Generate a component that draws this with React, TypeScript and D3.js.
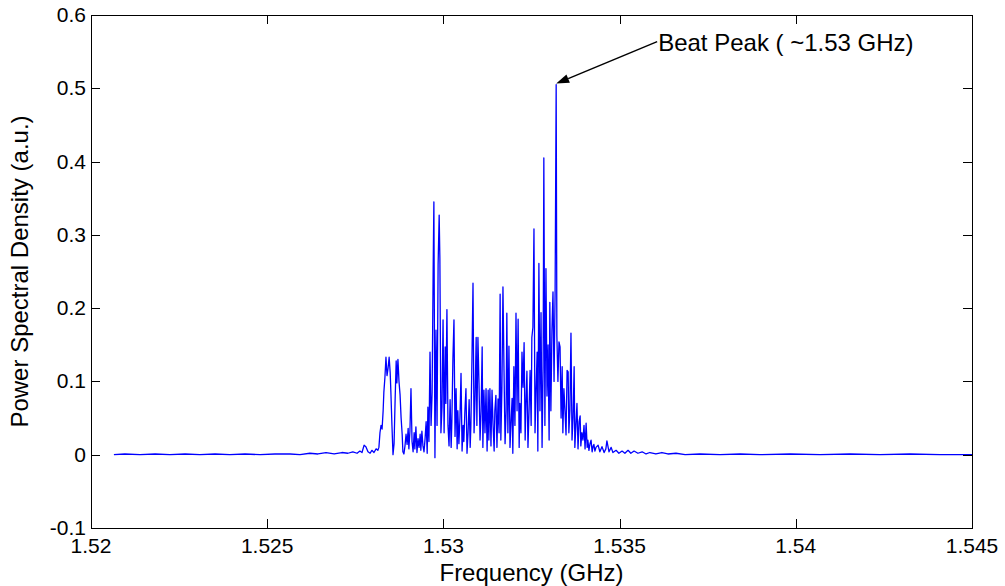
import * as d3 from 'd3';

// spectrum (GHz, a.u.)
const freqGHz = [
  1.52065, 1.52096, 1.52139, 1.52182, 1.52224, 1.52267, 1.52309, 1.52352, 1.52394, 1.52437,
  1.52480, 1.52522, 1.52565, 1.52593, 1.52621, 1.52644, 1.52667, 1.52690, 1.52712, 1.52729,
  1.52743, 1.52755, 1.52763, 1.52769, 1.52775, 1.52780, 1.52786, 1.52792, 1.52797, 1.52803,
  1.52809, 1.52814,
  1.52817, 1.52820, 1.52823, 1.52826, 1.52829, 1.52831, 1.52834, 1.52837, 1.52840, 1.52843,
  1.52846, 1.52849, 1.52851, 1.52854, 1.52857, 1.52860, 1.52863, 1.52866, 1.52868, 1.52871,
  1.52874, 1.52877, 1.52880, 1.52883, 1.52885, 1.52888, 1.52891, 1.52894, 1.52897, 1.52900,
  1.52902, 1.52905, 1.52908, 1.52911, 1.52914, 1.52917, 1.52919, 1.52922, 1.52925, 1.52928,
  1.52931, 1.52934, 1.52936, 1.52939, 1.52942, 1.52945, 1.52948, 1.52951, 1.52954, 1.52956,
  1.52959, 1.52962, 1.52965, 1.52968, 1.52971, 1.52973, 1.52976, 1.52979, 1.52982, 1.52985,
  1.52988, 1.52990, 1.52993, 1.52996, 1.52999, 1.53002, 1.53005, 1.53007, 1.53010, 1.53013,
  1.53016, 1.53019, 1.53022, 1.53024, 1.53027, 1.53030, 1.53033, 1.53036, 1.53039, 1.53041,
  1.53044, 1.53047, 1.53050, 1.53053, 1.53056, 1.53058, 1.53061, 1.53064, 1.53067, 1.53070,
  1.53073, 1.53076, 1.53078, 1.53081, 1.53084, 1.53087, 1.53090, 1.53093, 1.53095, 1.53098,
  1.53101, 1.53104, 1.53107, 1.53110, 1.53112, 1.53115, 1.53118, 1.53121, 1.53124, 1.53127,
  1.53129, 1.53132, 1.53135, 1.53138, 1.53141, 1.53144, 1.53146, 1.53149, 1.53152, 1.53155,
  1.53158, 1.53161, 1.53163, 1.53166, 1.53169, 1.53172, 1.53175, 1.53178, 1.53180, 1.53183,
  1.53186, 1.53189, 1.53192, 1.53195, 1.53197, 1.53200, 1.53203, 1.53206, 1.53209, 1.53212,
  1.53215, 1.53217, 1.53220, 1.53223, 1.53226, 1.53229, 1.53232, 1.53234, 1.53237, 1.53240,
  1.53243, 1.53246, 1.53249, 1.53251, 1.53254, 1.53257, 1.53260, 1.53263, 1.53266, 1.53268,
  1.53271, 1.53274, 1.53277, 1.53280, 1.53283, 1.53285, 1.53288, 1.53291, 1.53294, 1.53297,
  1.53300, 1.53302, 1.53305, 1.53308, 1.53311, 1.53314, 1.53317, 1.53320, 1.53322, 1.53325,
  1.53328, 1.53331, 1.53334, 1.53337, 1.53339, 1.53342, 1.53345, 1.53348, 1.53351, 1.53354,
  1.53356, 1.53359, 1.53362, 1.53365, 1.53368, 1.53371, 1.53373, 1.53376, 1.53379, 1.53382,
  1.53385, 1.53388, 1.53390, 1.53393, 1.53396, 1.53399, 1.53402, 1.53405, 1.53408, 1.53410,
  1.53413, 1.53416, 1.53419, 1.53422, 1.53425, 1.53427, 1.53430, 1.53433,
  1.53439, 1.53444, 1.53450, 1.53456, 1.53461, 1.53464, 1.53470, 1.53476, 1.53481, 1.53490,
  1.53498, 1.53507, 1.53515, 1.53524, 1.53532, 1.53541, 1.53552, 1.53564, 1.53575, 1.53586,
  1.53603, 1.53620, 1.53637, 1.53660, 1.53686, 1.53728, 1.53785, 1.53842, 1.53898, 1.53984,
  1.54069, 1.54154, 1.54239, 1.54324, 1.54409, 1.54500,
];

const psd = [
  0.000, 0.001, 0.000, 0.001, 0.000, 0.001, 0.000, 0.001, 0.000, 0.001,
  0.000, 0.001, 0.001, 0.000, 0.002, 0.001, 0.003, 0.001, 0.003, 0.002,
  0.004, 0.002, 0.005, 0.003, 0.013, 0.011, 0.004, 0.002, 0.006, 0.003,
  0.008, 0.006,
  0.010, 0.030, 0.040, 0.035, 0.060, 0.085, 0.105, 0.133, 0.108, 0.118,
  0.133, 0.112, 0.085, 0.040, 0.000, 0.015, 0.075, 0.128, 0.098, 0.130,
  0.100, 0.082, 0.050, 0.028, 0.004, 0.001, 0.012, 0.028, 0.014, 0.036,
  0.008, 0.032, 0.090, 0.018, 0.004, 0.030, 0.008, 0.038, 0.003, 0.022,
  0.010, 0.028, 0.006, 0.032, 0.012, 0.004, 0.022, 0.045, 0.002, 0.065,
  0.018, 0.140, 0.040, 0.085, 0.256, 0.345, -0.004, 0.170, 0.040, 0.260,
  0.327, 0.268, 0.030, 0.065, 0.184, 0.030, 0.147, 0.070, 0.198, 0.040,
  0.012, 0.075, 0.010, 0.045, 0.131, 0.184, 0.025, 0.090, 0.008, 0.060,
  0.015, 0.050, 0.111, 0.005, 0.040, 0.018, 0.060, 0.090, 0.002, 0.030,
  0.075, 0.010, 0.040, 0.130, 0.234, 0.030, 0.080, 0.160, 0.040, 0.160,
  0.098, 0.020, 0.060, 0.147, 0.010, 0.088, 0.030, 0.090, 0.005, 0.088,
  0.020, 0.090, 0.012, 0.088, 0.040, 0.005, 0.060, 0.081, 0.010, 0.076,
  0.030, 0.219, 0.020, 0.090, 0.229, 0.115, 0.015, 0.060, 0.193, 0.030,
  0.148, 0.010, 0.045, 0.077, 0.002, 0.120, 0.040, 0.193, 0.060, 0.185,
  0.010, 0.070, 0.030, 0.140, 0.092, 0.153, 0.020, 0.065, 0.114, 0.010,
  0.060, 0.115, 0.040, 0.160, 0.174, 0.308, 0.030, 0.090, 0.140, 0.005,
  0.261, 0.060, 0.194, 0.010, 0.120, 0.405, 0.040, 0.254, 0.080, 0.150,
  0.020, 0.208, 0.060, 0.170, 0.222, 0.100, 0.222, 0.505, 0.162, 0.100,
  0.154, 0.147, 0.050, 0.120, 0.030, 0.090, 0.060, 0.027, 0.115, 0.113,
  0.030, 0.060, 0.166, 0.020, 0.050, 0.120, 0.010, 0.040, 0.070, 0.008,
  0.045, 0.053, 0.012, 0.030, 0.020, 0.040, 0.008, 0.043, 0.010, 0.020,
  0.006, 0.015, 0.020, 0.004, 0.012, 0.014, 0.005, 0.010,
  0.013, 0.004, 0.011, 0.003, 0.008, 0.019, 0.004, 0.010, 0.003, 0.006,
  0.002, 0.005, 0.002, 0.006, 0.002, 0.005, 0.002, 0.004, 0.001, 0.003,
  0.001, 0.003, 0.001, 0.002, 0.000, 0.001, 0.000, 0.001, 0.000, 0.001,
  0.000, 0.001, 0.000, 0.001, 0.000, 0.000,
];

const xTicks = [1.52, 1.525, 1.53, 1.535, 1.54, 1.545];
const yTicks = [-0.1, 0, 0.1, 0.2, 0.3, 0.4, 0.5, 0.6];

const peakFreq = 1.53320;
const peakValue = 0.505;
const peakLabel = 'Beat Peak ( ~1.53 GHz)';

const font = '"Liberation Sans", Arial, Helvetica, sans-serif';

export default function App() {
  const width = 1005, height = 586;
  const left = 91, right = 972, top = 15, bottom = 528;
  const tickLen = 9;

  const x = d3.scaleLinear().domain([1.52, 1.545]).range([left, right]);
  const y = d3.scaleLinear().domain([-0.1, 0.6]).range([bottom, top]);

  const line = d3.line<number>()
    .x((_, i) => x(freqGHz[i]))
    .y(d => y(d));

  // arrow from the label down to the beat peak
  const tipX = x(peakFreq), tipY = y(peakValue) - 1;
  const tailX = tipX + 101, tailY = tipY - 42;
  const ang = Math.atan2(tipY - tailY, tipX - tailX);
  const hl = 13, hw = 4.5;
  const bx = tipX - hl * Math.cos(ang), by = tipY - hl * Math.sin(ang);
  const head = [
    [tipX, tipY],
    [bx + hw * Math.sin(ang), by - hw * Math.cos(ang)],
    [bx - hw * Math.sin(ang), by + hw * Math.cos(ang)],
  ].map(p => p.join(',')).join(' ');

  return (
    <div style={{ position: 'absolute', left: 0, top: 0 }}>
      <svg width={width} height={height} style={{ display: 'block', background: '#fff' }} fontFamily={font}>
        <path d={line(psd) || ''} fill="none" stroke="#0000ff" strokeWidth={1.3} strokeLinejoin="round" />

        {/* box */}
        <rect x={left + 0.5} y={top + 0.5} width={right - left} height={bottom - top}
          fill="none" stroke="#000" strokeWidth={1} />

        {xTicks.map(t => {
          const px = Math.round(x(t)) + 0.5;
          return (
            <g key={'x' + t}>
              <line x1={px} x2={px} y1={bottom} y2={bottom - tickLen} stroke="#000" />
              <line x1={px} x2={px} y1={top} y2={top + tickLen} stroke="#000" />
              <text x={x(t)} y={bottom + 25} textAnchor="middle" fontSize={21}>{String(t)}</text>
            </g>
          );
        })}

        {yTicks.map(t => {
          const py = Math.round(y(t)) + 0.5;
          return (
            <g key={'y' + t}>
              <line x1={left} x2={left + tickLen} y1={py} y2={py} stroke="#000" />
              <line x1={right} x2={right - tickLen} y1={py} y2={py} stroke="#000" />
              <text x={left - 5} y={y(t) + 7} textAnchor="end" fontSize={21}>{String(t)}</text>
            </g>
          );
        })}

        <text x={(left + right) / 2} y={height - 5} textAnchor="middle" fontSize={24}>Frequency (GHz)</text>
        <text transform={`translate(28,${(top + bottom) / 2}) rotate(-90)`} textAnchor="middle" fontSize={24}>
          Power Spectral Density (a.u.)
        </text>

        <line x1={tailX} y1={tailY} x2={bx} y2={by} stroke="#000" strokeWidth={1.5} />
        <polygon points={head} fill="#000" />
        <text x={tailX + 1} y={tailY + 9} fontSize={24}>{peakLabel}</text>
      </svg>
    </div>
  );
}
